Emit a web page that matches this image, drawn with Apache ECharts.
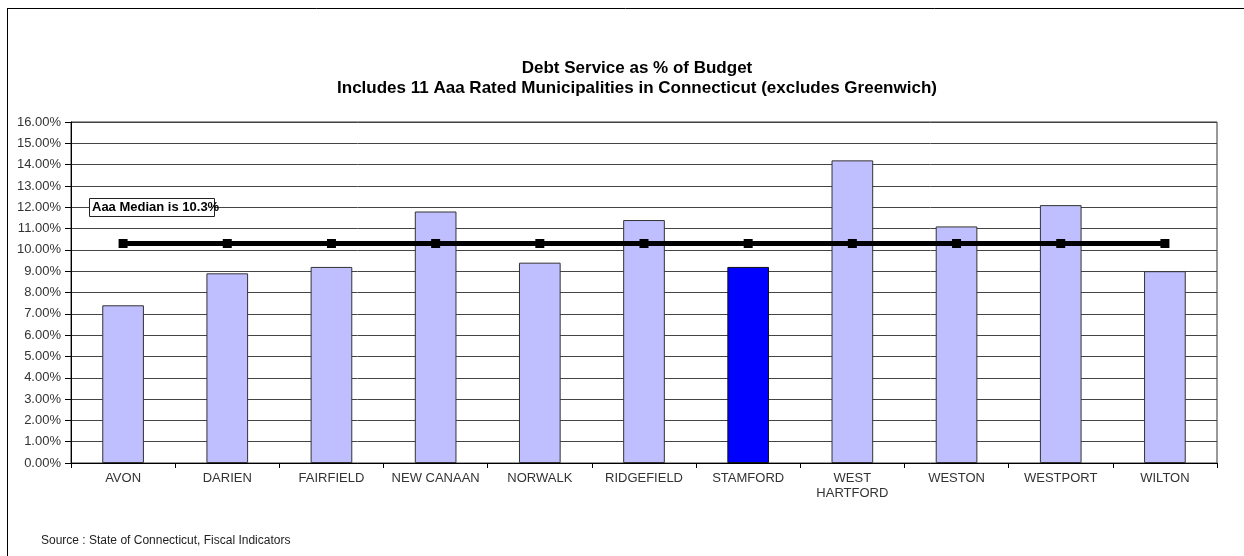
<!DOCTYPE html>
<html>
<head>
<meta charset="utf-8">
<script src="https://cdn.jsdelivr.net/npm/echarts@6/dist/echarts.min.js"></script>
<style>
html,body{margin:0;padding:0;background:#fff;}
#chart{width:1244px;height:556px;}
</style>
</head>
<body>
<div id="chart"></div>
<script>
const categories = ['AVON','DARIEN','FAIRFIELD','NEW CANAAN','NORWALK','RIDGEFIELD','STAMFORD','WEST\nHARTFORD','WESTON','WESTPORT','WILTON'];
const debtServicePct = [7.4, 8.9, 9.2, 11.8, 9.4, 11.4, 9.2, 14.2, 11.1, 12.1, 9.0];
const aaaMedian = [10.3, 10.3, 10.3, 10.3, 10.3, 10.3, 10.3, 10.3, 10.3, 10.3, 10.3];
const highlightCategory = 'STAMFORD';
const titleLines = ['Debt Service as % of Budget', 'Includes 11 Aaa Rated Municipalities in Connecticut (excludes Greenwich)'];
const medianLabel = 'Aaa Median is 10.3%';
const sourceText = 'Source : State of Connecticut, Fiscal Indicators';

const font = 'Arial, "Liberation Sans", sans-serif';
const chart = echarts.init(document.getElementById('chart'), null, {renderer: 'canvas'});

const barData = debtServicePct.map((v, i) => ({
  value: v,
  itemStyle: categories[i] === highlightCategory
    ? {color: '#0000FF', borderColor: '#111', borderWidth: 1}
    : {color: '#BFBFFF', borderColor: '#333', borderWidth: 1}
}));

chart.setOption({
  backgroundColor: '#fff',
  animation: false,
  title: {
    text: titleLines.join('\n'),
    left: 632,
    top: 53,
    textAlign: 'center',
    textStyle: {fontFamily: font, fontSize: 17, fontWeight: 'bold', color: '#000', lineHeight: 20}
  },
  grid: {left: 71, right: 27, top: 122, bottom: 93, show: true, borderColor: '#333', borderWidth: 1, backgroundColor: 'transparent'},
  xAxis: {
    type: 'category',
    data: categories,
    axisLine: {lineStyle: {color: '#000', width: 1}},
    axisTick: {show: true, length: 5, lineStyle: {color: '#000'}},
    axisLabel: {fontFamily: font, fontSize: 13, color: '#333', margin: 8, lineHeight: 15, interval: 0}
  },
  yAxis: {
    type: 'value',
    min: 0,
    max: 16,
    interval: 1,
    axisLine: {show: true, lineStyle: {color: '#000'}},
    axisTick: {show: true, length: 6, lineStyle: {color: '#000'}},
    axisLabel: {fontFamily: font, fontSize: 13, color: '#333', margin: 10, formatter: v => v.toFixed(2) + '%'},
    splitLine: {show: true, lineStyle: {color: '#444', width: 1}}
  },
  series: [
    {
      type: 'bar',
      data: barData,
      barWidth: '40%',
      z: 2
    },
    {
      type: 'line',
      data: aaaMedian,
      symbol: 'rect',
      symbolSize: 9,
      lineStyle: {color: '#000', width: 5},
      itemStyle: {color: '#000'},
      z: 3
    }
  ],
  graphic: [
    {type: 'line', shape: {x1: 7, y1: 8.5, x2: 1244, y2: 8.5}, style: {stroke: '#000', lineWidth: 1}},
    {type: 'line', shape: {x1: 7.5, y1: 8, x2: 7.5, y2: 556}, style: {stroke: '#000', lineWidth: 1}},
    {type: 'rect', shape: {x: 89.5, y: 198.5, width: 125, height: 18}, style: {fill: '#fff', stroke: '#222', lineWidth: 1}, z: 10},
    {type: 'text', x: 92, y: 207.5, style: {text: medianLabel, font: 'bold 13px ' + font, fill: '#000', verticalAlign: 'middle'}, z: 11},
    {type: 'text', x: 41, y: 541, style: {text: sourceText, font: '12px ' + font, fill: '#222', verticalAlign: 'middle'}, z: 11}
  ]
});
</script>
</body>
</html>
